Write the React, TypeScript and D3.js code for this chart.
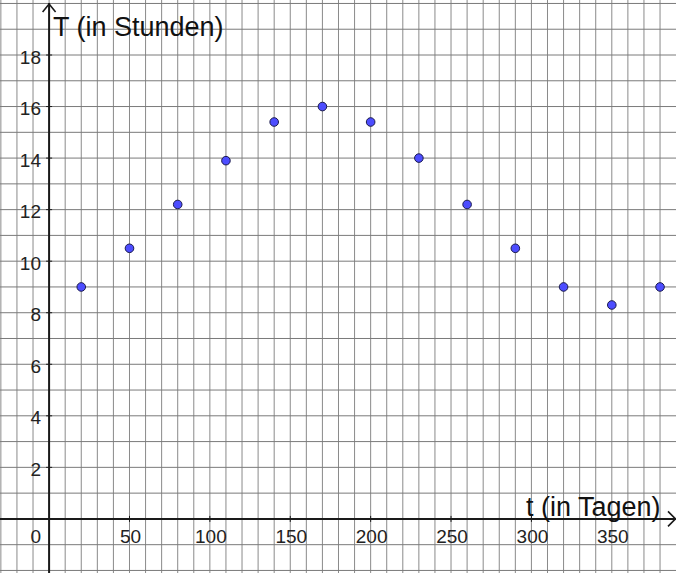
import React from "react";
import * as d3 from "d3";

const days = [20, 50, 80, 110, 140, 170, 200, 230, 260, 290, 320, 350, 380];
const hours = [9, 10.5, 12.2, 13.9, 15.4, 16, 15.4, 14, 12.2, 10.5, 9, 8.3, 9];
const xTickLabels = [50, 100, 150, 200, 250, 300, 350];
const yTickLabels = [2, 4, 6, 8, 10, 12, 14, 16, 18];
const xAxisTitle = "t (in Tagen)";
const yAxisTitle = "T (in Stunden)";

const W = 676;
const H = 573;

export default function App() {
  const x = d3.scaleLinear().domain([0, 350]).range([49.1, 611.8]);
  const y = d3.scaleLinear().domain([0, 18]).range([518.9, 55.0]);
  const xMin = x.invert(0);
  const xMax = x.invert(W);
  const yMin = y.invert(H);
  const yMax = y.invert(0);
  const vGrid = d3.range(Math.ceil(xMin / 10) * 10, xMax, 10);
  const hGrid = d3.range(Math.ceil(yMin), yMax, 1);
  const x0 = x(0);
  const y0 = y(0);
  const font = "'Liberation Sans', Arial, sans-serif";

  return (
    <svg
      width={W}
      height={H}
      style={{ position: "absolute", left: 0, top: 0, background: "#fff" }}
      fontFamily={font}
    >
      <rect x={0} y={0} width={W} height={H} fill="#fff" />
      {vGrid.map((v) => (
        <line key={"v" + v} x1={x(v)} x2={x(v)} y1={0} y2={H} stroke="#8a8a8a" strokeWidth={1} />
      ))}
      {hGrid.map((v) => (
        <line key={"h" + v} x1={0} x2={W} y1={y(v)} y2={y(v)} stroke="#7a7a7a" strokeWidth={1} />
      ))}
      {/* axes */}
      <line x1={0} x2={W} y1={y0} y2={y0} stroke="#1a1a1a" strokeWidth={2} />
      <line x1={x0} x2={x0} y1={3} y2={H} stroke="#1a1a1a" strokeWidth={2} />
      <polyline
        points={`${x0 - 6.5},${12} ${x0},${4} ${x0 + 6.5},${12}`}
        fill="none"
        stroke="#1a1a1a"
        strokeWidth={1.6}
      />
      <polyline
        points={`${W - 8},${y0 - 7.5} ${W - 0.5},${y0} ${W - 8},${y0 + 7.5}`}
        fill="none"
        stroke="#1a1a1a"
        strokeWidth={1.6}
      />
      {/* ticks */}
      {xTickLabels.map((v) => (
        <line key={"xt" + v} x1={x(v)} x2={x(v)} y1={y0 - 3} y2={y0 + 3} stroke="#1a1a1a" strokeWidth={1} />
      ))}
      {yTickLabels.map((v) => (
        <line key={"yt" + v} x1={x0 - 3} x2={x0 + 3} y1={y(v)} y2={y(v)} stroke="#1a1a1a" strokeWidth={1} />
      ))}
      {/* tick labels */}
      {xTickLabels.map((v) => (
        <text key={"xl" + v} x={x(v) + 1} y={543} fontSize={19} textAnchor="middle" fill="#222">
          {v}
        </text>
      ))}
      <text x={41} y={543} fontSize={19} textAnchor="end" fill="#222">
        0
      </text>
      {yTickLabels.map((v) => (
        <text key={"yl" + v} x={41} y={y(v) + 8.5} fontSize={19} textAnchor="end" fill="#222">
          {v}
        </text>
      ))}
      {/* axis titles */}
      <text x={53} y={35.5} fontSize={27} fill="#111">
        {yAxisTitle}
      </text>
      <text x={526} y={516} fontSize={27} fill="#111">
        {xAxisTitle}
      </text>
      {/* points */}
      {days.map((d, i) => (
        <circle key={"p" + i} cx={x(d)} cy={y(hours[i])} r={4.3} fill="#4d4dff" stroke="#1a1a4d" strokeWidth={1} />
      ))}
    </svg>
  );
}
